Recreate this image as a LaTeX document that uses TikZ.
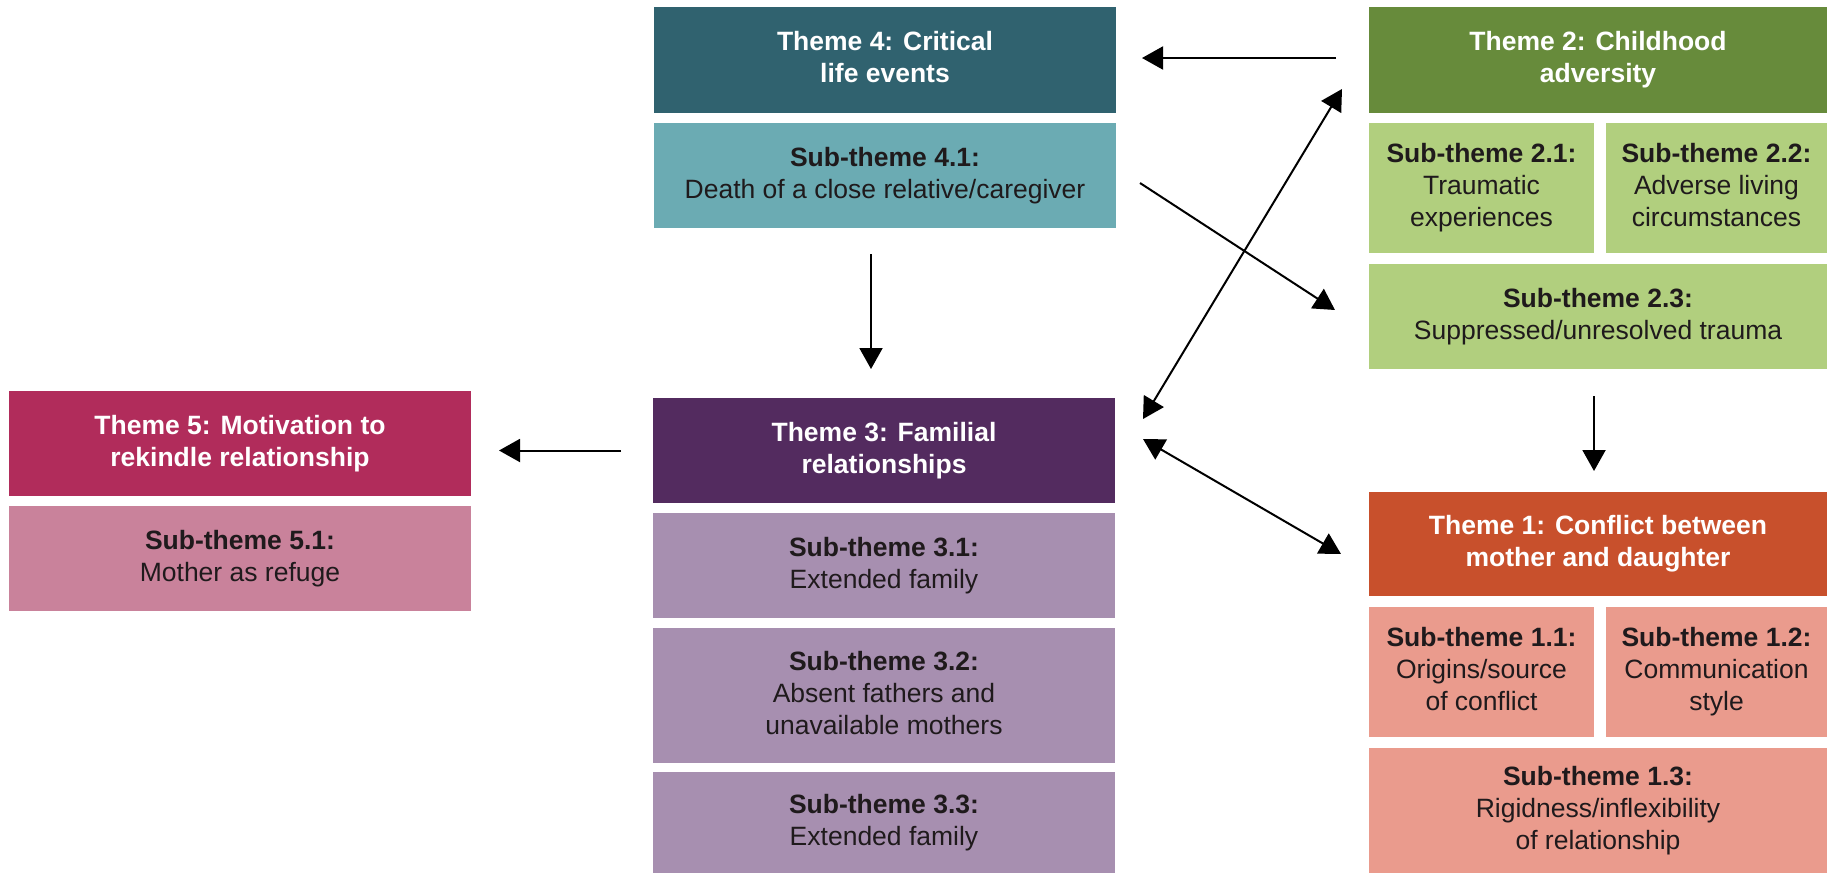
\documentclass[tikz,border=0pt]{standalone}
\usepackage{fontspec}
\setmainfont{Liberation Sans}
\usetikzlibrary{arrows.meta}

% theme colours (dark) and sub-theme colours (light)
\definecolor{tealdark}{HTML}{30626F}
\definecolor{teallight}{HTML}{6BABB3}
\definecolor{greendark}{HTML}{678B3B}
\definecolor{greenlight}{HTML}{B1CF7E}
\definecolor{reddark}{HTML}{C8502C}
\definecolor{redlight}{HTML}{EA9B8D}
\definecolor{purpledark}{HTML}{532B5F}
\definecolor{purplelight}{HTML}{A78FB0}
\definecolor{pinkdark}{HTML}{B12C5B}
\definecolor{pinklight}{HTML}{C9829B}
\definecolor{subtext}{HTML}{1F1A1C}

% invisible rules that fix the height above the first baseline and the
% depth below the last one, so every text block sits at the same place
\newcommand{\themetop}{\rule{0pt}{29pt}}
\newcommand{\subtop}{\rule{0pt}{28pt}}
\newcommand{\blockbot}{\rule[-6pt]{0pt}{6pt}}

\begin{document}
\begin{tikzpicture}[x=1pt,y=-1pt,
  box/.style={rectangle, inner sep=0pt, outer sep=0pt, align=center,
              font=\fontsize{26.5}{32}\selectfont},
  themebox/.style={box, text=white, font=\fontsize{26.5}{32}\selectfont\bfseries,
              execute at begin node=\themetop, execute at end node=\blockbot},
  subbox/.style={box, text=subtext,
              execute at begin node=\subtop, execute at end node=\blockbot},
  tip/.tip={Triangle[length=21pt,width=23pt]},
  arr/.style={line width=2pt, -tip},
  dbl/.style={line width=2pt, tip-tip}
]
\useasboundingbox (0,0) rectangle (1827,873);
\fill[white] (0,0) rectangle (1827,873);
\clip (0,0) rectangle (1827,873);

% Theme 4 column (top middle)
\node[themebox, fill=tealdark, minimum width=462pt, minimum height=106pt] (t4) at (885,60)
  {Theme 4: Critical\\life events};
\node[subbox, fill=teallight, minimum width=462pt, minimum height=105pt] (s41) at (885,175.5)
  {\textbf{Sub-theme 4.1:}\\Death of a close relative/caregiver};

% Theme 2 column (top right)
\node[themebox, fill=greendark, minimum width=458pt, minimum height=106pt] (t2) at (1598,60)
  {Theme 2: Childhood\\adversity};
\node[subbox, fill=greenlight, minimum width=225pt, minimum height=130pt] (s21) at (1481.5,188)
  {\textbf{Sub-theme 2.1:}\\Traumatic\\experiences};
\node[subbox, fill=greenlight, minimum width=221pt, minimum height=130pt] (s22) at (1716.5,188)
  {\textbf{Sub-theme 2.2:}\\Adverse living\\circumstances};
\node[subbox, fill=greenlight, minimum width=458pt, minimum height=105pt] (s23) at (1598,316.5)
  {\textbf{Sub-theme 2.3:}\\Suppressed/unresolved trauma};

% Theme 1 column (bottom right)
\node[themebox, fill=reddark, minimum width=458pt, minimum height=104pt] (t1) at (1598,544)
  {Theme 1: Conflict between\\mother and daughter};
\node[subbox, fill=redlight, minimum width=225pt, minimum height=130pt] (s11) at (1481.5,672)
  {\textbf{Sub-theme 1.1:}\\Origins/source\\of conflict};
\node[subbox, fill=redlight, minimum width=221pt, minimum height=130pt] (s12) at (1716.5,672)
  {\textbf{Sub-theme 1.2:}\\Communication\\style};
\node[subbox, fill=redlight, minimum width=458pt, minimum height=125pt] (s13) at (1598,810.5)
  {\textbf{Sub-theme 1.3:}\\Rigidness/inflexibility\\of relationship};

% Theme 3 column (bottom middle)
\node[themebox, fill=purpledark, minimum width=462pt, minimum height=105pt] (t3) at (884,450.5)
  {Theme 3: Familial\\relationships};
\node[subbox, fill=purplelight, minimum width=462pt, minimum height=105pt] (s31) at (884,565.5)
  {\textbf{Sub-theme 3.1:}\\Extended family};
\node[subbox, fill=purplelight, minimum width=462pt, minimum height=135pt] (s32) at (884,695.5)
  {\textbf{Sub-theme 3.2:}\\Absent fathers and\\unavailable mothers};
\node[subbox, fill=purplelight, minimum width=462pt, minimum height=101pt] (s33) at (884,822.5)
  {\textbf{Sub-theme 3.3:}\\Extended family};

% Theme 5 column (left)
\node[themebox, fill=pinkdark, minimum width=462pt, minimum height=105pt] (t5) at (240,443.5)
  {Theme 5: Motivation to\\rekindle relationship};
\node[subbox, fill=pinklight, minimum width=462pt, minimum height=105pt] (s51) at (240,558.5)
  {\textbf{Sub-theme 5.1:}\\Mother as refuge};

% connectors
\draw[arr] ([shift={(-33,-2)}]t2.west) -- ([shift={(26,-2)}]t4.east);
\draw[arr] ([shift={(-14,26)}]s41.south) -- ([shift={(-13,-29)}]t3.north);
\draw[arr] ([shift={(-32,0)}]t3.west) -- ([shift={(28,7)}]t5.east);
\draw[arr] ([shift={(24,7.5)}]s41.east) -- ([shift={(-34,-6.5)}]s23.west);
\draw[dbl] ([shift={(28,21)}]t3.north east) -- ([shift={(-27,-24)}]t2.south west);
\draw[dbl] ([shift={(28,-11.5)}]t3.east) -- ([shift={(-28,10)}]t1.west);
\draw[arr] ([shift={(-4,27)}]s23.south) -- ([shift={(-4,-21)}]t1.north);
\end{tikzpicture}
\end{document}
